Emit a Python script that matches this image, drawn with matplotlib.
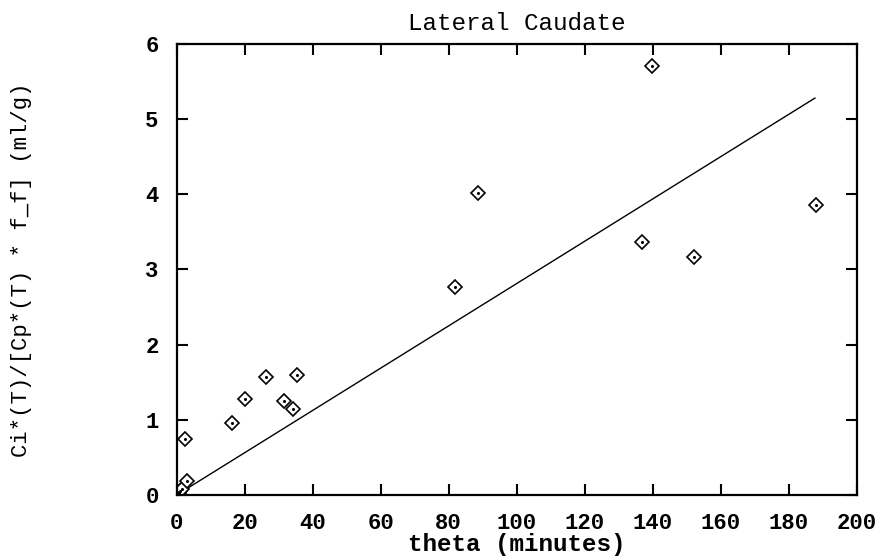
import numpy as np
import matplotlib
matplotlib.use("Agg")
import matplotlib.pyplot as plt

# Measured points: theta (minutes) vs tissue/plasma ratio (ml/g)
theta = [0.3, 0.6, 1.0, 1.5, 2.4, 2.9, 16.4, 20.1, 26.3, 31.6, 34.1, 35.4,
         82.0, 88.6, 136.8, 139.7, 152.1, 187.9]
ratio = [0.01, 0.03, 0.05, 0.08, 0.74, 0.19, 0.96, 1.28, 1.57, 1.25, 1.14, 1.60,
         2.77, 4.02, 3.37, 5.71, 3.16, 3.86]

# Fitted line through the origin
fit_x = [0.0, 187.7]
fit_y = [0.0, 5.28]

plt.rcParams["font.family"] = ["Liberation Mono", "DejaVu Sans Mono"]

fig = plt.figure(figsize=(8.83, 5.59), dpi=100)
ax = fig.add_axes([0.2001, 0.1145, 0.7701, 0.8068])

ax.plot(fit_x, fit_y, color="black", linewidth=1.0)
ax.plot(theta, ratio, linestyle="none", marker="D", markersize=7,
        markerfacecolor="white", markeredgecolor="black", markeredgewidth=1.2)
ax.plot(theta, ratio, linestyle="none", marker="o", markersize=1.2,
        color="black")

ax.set_xlim(0, 200)
ax.set_ylim(0, 6)
ax.set_xticks(np.arange(0, 201, 20))
ax.set_yticks(np.arange(0, 7, 1))
ax.tick_params(direction="in", length=8, width=1.5, top=True, right=True,
               labelsize=16)
ax.tick_params(axis="x", pad=13)
ax.tick_params(axis="y", pad=13)
for lab in ax.get_xticklabels() + ax.get_yticklabels():
    lab.set_fontweight("bold")
for s in ax.spines.values():
    s.set_linewidth(1.6)

ax.set_title("Lateral Caudate", fontsize=17.5, pad=10)
ax.set_xlabel("theta (minutes)", fontsize=17.5, fontweight="bold", va="top")
ax.xaxis.set_label_coords(0.5, -0.085)
ax.set_ylabel("Ci*(T)/[Cp*(T) * f_f] (ml/g)", fontsize=16)
ax.yaxis.set_label_coords(-0.213, 0.5)

fig.savefig("out.png", dpi=100)
